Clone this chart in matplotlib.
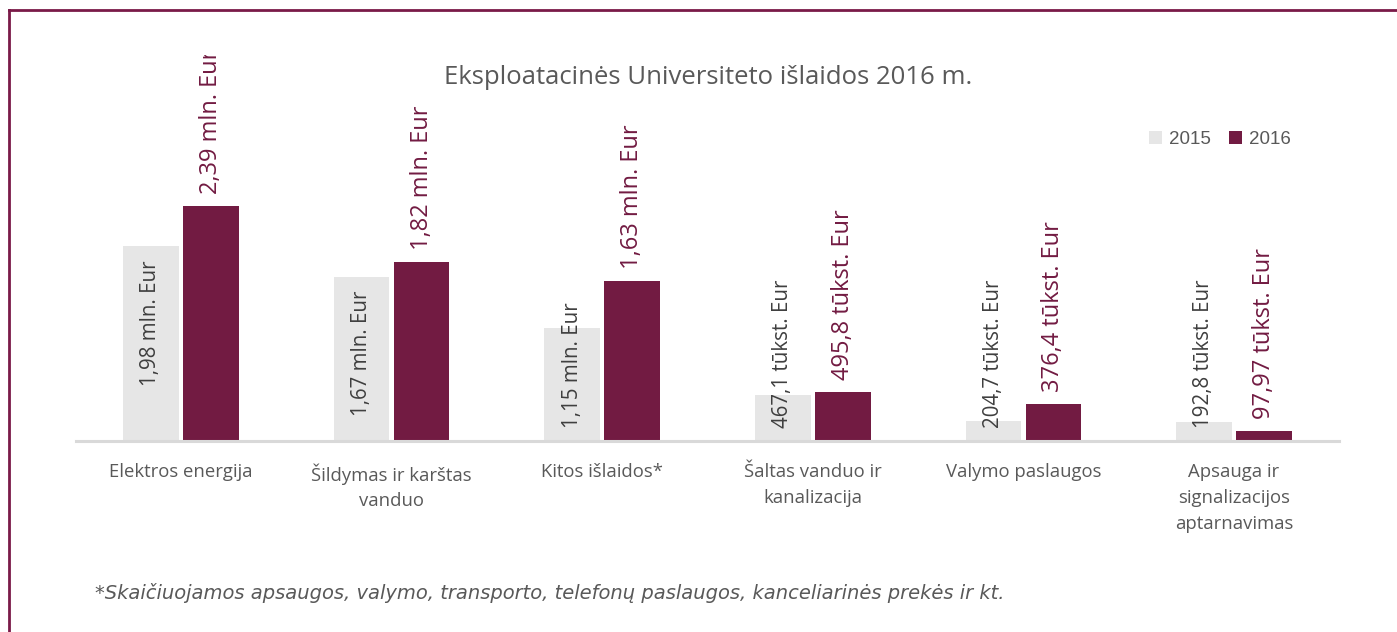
import matplotlib
matplotlib.use("Agg")
import matplotlib.pyplot as plt
from matplotlib.patches import Patch
from matplotlib.lines import Line2D

# Data (EUR)
categories = [
    "Elektros energija",
    "Šildymas ir karštas\nvanduo",
    "Kitos išlaidos*",
    "Šaltas vanduo ir\nkanalizacija",
    "Valymo paslaugos",
    "Apsauga ir\nsignalizacijos\naptarnavimas",
]
values_2015 = [1_980_000, 1_670_000, 1_150_000, 467_100, 204_700, 192_800]
values_2016 = [2_390_000, 1_820_000, 1_630_000, 495_800, 376_400, 97_970]
labels_2015 = ["1,98 mln. Eur", "1,67 mln. Eur", "1,15 mln. Eur",
               "467,1 tūkst. Eur", "204,7 tūkst. Eur", "192,8 tūkst. Eur"]
labels_2016 = ["2,39 mln. Eur", "1,82 mln. Eur", "1,63 mln. Eur",
               "495,8 tūkst. Eur", "376,4 tūkst. Eur", "97,97 tūkst. Eur"]
series_names = ["2015", "2016"]

title = "Eksploatacinės Universiteto išlaidos 2016 m."
footnote = ("*Skaičiuojamos apsaugos, valymo, transporto, telefonų paslaugos, "
            "kanceliarinės prekės ir kt.")

# Style
GREY_BAR = "#e6e6e6"
MAROON = "#721b42"
TEXT = "#595959"
LABEL_2015 = "#3f3f3f"
FONT = ["Open Sans", "DejaVu Sans"]

W, H, DPI = 1397, 632, 100
fig = plt.figure(figsize=(W / DPI, H / DPI), dpi=DPI)
fig.patch.set_facecolor("white")

# Plot area in pixels: x 75.7..1339.3, baseline y=441, top y=55
left_px, right_px, base_px, top_px = 75.7, 1339.3, 441.0, 55.0
ax = fig.add_axes([left_px / W, 1 - base_px / H,
                   (right_px - left_px) / W, (base_px - top_px) / H])

px_per_unit = 98.3 / 1e6
ax.set_ylim(0, (base_px - top_px) / px_per_unit)
ax.set_xlim(-0.5, len(categories) - 0.5)

bar_w = 0.2635
offset = 0.1425
x = list(range(len(categories)))
ax.bar([i - offset for i in x], values_2015, width=bar_w, color=GREY_BAR, zorder=2)
ax.bar([i + offset for i in x], values_2016, width=bar_w, color=MAROON, zorder=2)

for s in ["top", "right", "left"]:
    ax.spines[s].set_visible(False)
ax.spines["bottom"].set_color("#d9d9d9")
ax.spines["bottom"].set_linewidth(2.2)
ax.set_yticks([])
ax.set_xticks(x)
ax.set_xticklabels(categories, fontsize=13.3, color=TEXT, family=FONT,
                   linespacing=1.55)
ax.tick_params(axis="x", length=0, pad=16)
ax.patch.set_alpha(0)

# 2016 labels above bars
for i, (v, lab) in enumerate(zip(values_2016, labels_2016)):
    t = ax.annotate(lab, xy=(i + offset, v), xytext=(0, 12),
                    textcoords="offset pixels", rotation=90,
                    rotation_mode="anchor", ha="left", va="center",
                    fontsize=17, color=MAROON, family=FONT,
                    annotation_clip=False, zorder=3)
    t.set_clip_on(True)
    t.set_clip_path(ax.patch)

# 2015 labels: inside the bar end, or from the base when they don't fit
fig.canvas.draw()
renderer = fig.canvas.get_renderer()
base_disp = ax.transData.transform((0, 0))[1]
for i, (v, lab) in enumerate(zip(values_2015, labels_2015)):
    kw = dict(rotation=90, rotation_mode="anchor", va="center",
              fontsize=14.8, color=LABEL_2015, family=FONT,
              textcoords="offset pixels", annotation_clip=False, zorder=3)
    t = ax.annotate(lab, xy=(i - offset, v), xytext=(0, -14), ha="right", **kw)
    bb = t.get_window_extent(renderer)
    if bb.y0 < base_disp + 13:
        t.remove()
        ax.annotate(lab, xy=(i - offset, 0), xytext=(0, 13), ha="left", **kw)

# Title
fig.text(708 / W, 1 - 78 / H, title, ha="center", va="center",
         fontsize=18.5, color=TEXT, family=FONT)

# Legend
handles = [Patch(facecolor=GREY_BAR, edgecolor="none"),
           Patch(facecolor=MAROON, edgecolor="none")]
fig.legend(handles, series_names, loc="center left",
           bbox_to_anchor=(1149 / W, 1 - 139.5 / H), ncol=2, frameon=False,
           handlelength=0.7, handleheight=0.7, handletextpad=0.35,
           columnspacing=1.0, borderpad=0, borderaxespad=0,
           prop={"family": ["Liberation Sans", "DejaVu Sans"], "size": 13.5},
           labelcolor=TEXT)

# Footnote
fig.text(95 / W, 1 - 593 / H, footnote, ha="left", va="center",
         fontsize=14, style="italic", color=TEXT,
         family=["DejaVu Sans"])

# Frame lines (top and left)
BORDER = "#7a1a48"
fig.add_artist(Line2D([9 / W, 1.0], [1 - 10 / H, 1 - 10 / H],
                      transform=fig.transFigure, color=BORDER, lw=2))
fig.add_artist(Line2D([9 / W, 9 / W], [0, 1 - 10 / H],
                      transform=fig.transFigure, color=BORDER, lw=2))

fig.savefig("out.png", dpi=DPI)
